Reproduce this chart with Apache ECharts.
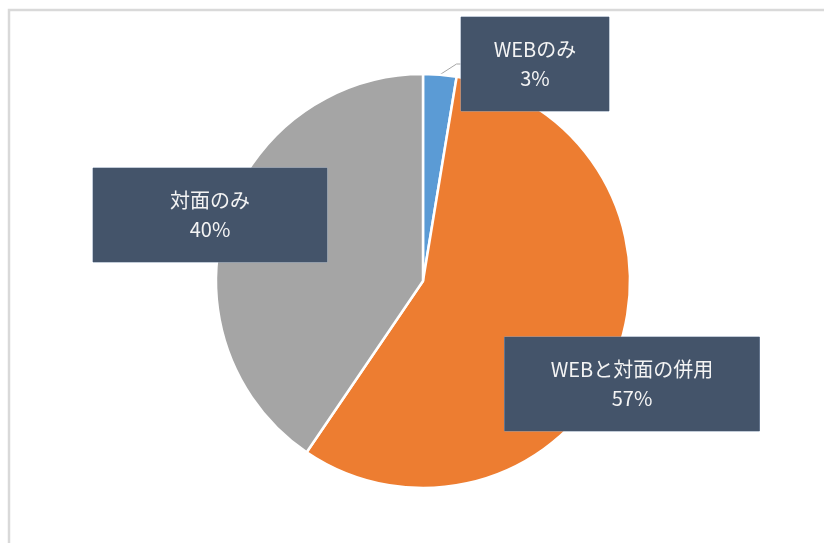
<!DOCTYPE html>
<html>
<head>
<meta charset="utf-8">
<script src="https://cdn.jsdelivr.net/npm/echarts@6/dist/echarts.min.js"></script>
<style>
  html, body { margin: 0; padding: 0; background: #fff; }
  #chart { width: 824px; height: 543px; }
</style>
</head>
<body>
<div id="chart"></div>
<script>
// 回答区分
var categories = ['WEBのみ', 'WEBと対面の併用', '対面のみ'];
// 割合（%）
var shares = [2.6, 56.9, 40.5];
var colors = ['#5B9BD5', '#ED7D31', '#A5A5A5'];

// ラベル枠の中心と大きさ
var boxes = [
  { cx: 535, cy: 64, w: 148, h: 94 },
  { cx: 632, cy: 384, w: 255, h: 94 },
  { cx: 210, cy: 215, w: 234, h: 94 }
];

var chart = echarts.init(document.getElementById('chart'));

var option = {
  animation: false,
  graphic: [{
    type: 'rect',
    shape: { x: 9, y: 10, width: 900, height: 700 },
    style: { fill: 'none', stroke: '#d9d9d9', lineWidth: 2.5 },
    silent: true
  }],
  series: [{
    type: 'pie',
    center: [423, 281],
    radius: 207,
    startAngle: 90,
    clockwise: true,
    percentPrecision: 0,
    itemStyle: { borderColor: '#fff', borderWidth: 2.5 },
    label: {
      show: true,
      position: 'outside',
      formatter: '{b}\n{d}%',
      color: '#f4f4f4',
      fontFamily: 'Noto Sans CJK JP',
      fontSize: 20,
      lineHeight: 29,
      backgroundColor: '#44546A',
      borderColor: '#8497b0',
      borderWidth: 0.5,
      align: 'center',
      verticalAlign: 'middle'
    },
    labelLine: { show: false },
    labelLayout: function (params) {
      var b = boxes[params.dataIndex];
      return {
        x: b.cx,
        y: b.cy,
        width: b.w,
        height: b.h,
        align: 'center',
        verticalAlign: 'middle'
      };
    },
    data: categories.map(function (name, i) {
      var item = {
        name: name,
        value: shares[i],
        itemStyle: { color: colors[i] },
        label: { width: boxes[i].w, height: boxes[i].h }
      };
      if (i === 0) {
        item.labelLine = {
          show: true,
          length: 4,
          length2: 4,
          lineStyle: { color: '#a6a6a6', width: 1 }
        };
      }
      return item;
    })
  }]
};

chart.setOption(option);
</script>
</body>
</html>
